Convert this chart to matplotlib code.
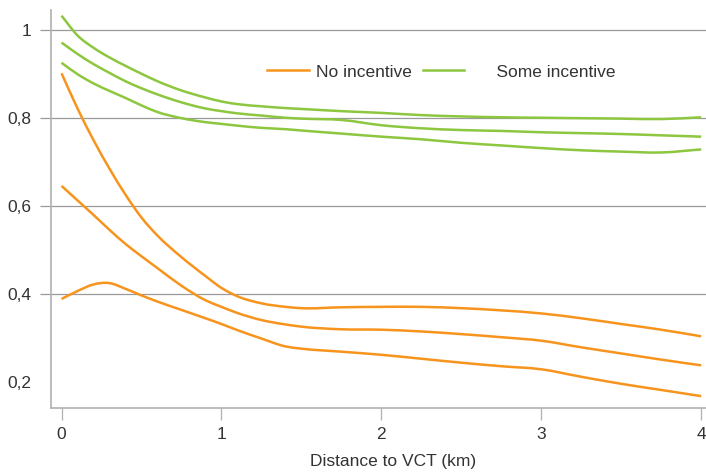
import matplotlib
matplotlib.use("Agg")
import matplotlib.pyplot as plt
from matplotlib.path import Path
from matplotlib.patches import PathPatch
from matplotlib.lines import Line2D

plt.rcParams['font.family'] = ['Liberation Sans', 'DejaVu Sans']

# Distance to VCT (km)
distance = [0, 0.1, 0.2, 0.3, 0.4, 0.5, 0.6, 0.75, 0.9, 1.0, 1.1, 1.25, 1.4, 1.5,
            1.75, 2.0, 2.25, 2.5, 2.75, 3.0, 3.25, 3.5, 3.75, 4.0]

# No incentive (orange) — upper bound, estimate, lower bound
no_upper = [0.901, 0.821, 0.749, 0.684, 0.625, 0.573, 0.532, 0.483, 0.440, 0.413, 0.394, 0.378,
            0.370, 0.367, 0.369, 0.370, 0.370, 0.367, 0.362, 0.355, 0.344, 0.331, 0.318, 0.303]
no_mid = [0.645, 0.612, 0.579, 0.545, 0.513, 0.485, 0.458, 0.418, 0.385, 0.370, 0.356, 0.340,
          0.330, 0.325, 0.319, 0.318, 0.314, 0.308, 0.301, 0.293, 0.278, 0.264, 0.25, 0.237]
no_lower = [0.388, 0.406, 0.421, 0.424, 0.411, 0.396, 0.382, 0.363, 0.344, 0.331, 0.317, 0.298,
            0.280, 0.275, 0.268, 0.261, 0.252, 0.243, 0.235, 0.228, 0.211, 0.195, 0.181, 0.167]

# Some incentive (green) — upper bound, estimate, lower bound
some_upper = [1.032, 0.987, 0.959, 0.937, 0.918, 0.9, 0.883, 0.862, 0.846, 0.837, 0.831, 0.826,
              0.822, 0.82, 0.815, 0.811, 0.806, 0.803, 0.801, 0.8, 0.799, 0.798, 0.797, 0.801]
some_mid = [0.971, 0.945, 0.922, 0.902, 0.883, 0.867, 0.853, 0.835, 0.821, 0.815, 0.81, 0.805,
            0.80, 0.798, 0.795, 0.783, 0.776, 0.772, 0.770, 0.767, 0.765, 0.763, 0.76, 0.757]
some_lower = [0.925, 0.899, 0.878, 0.861, 0.845, 0.828, 0.813, 0.799, 0.79, 0.786, 0.782, 0.777,
              0.774, 0.771, 0.764, 0.757, 0.751, 0.743, 0.737, 0.731, 0.726, 0.723, 0.721, 0.728]

x_ticks = [0, 1, 2, 3, 4]
y_ticks = [0.2, 0.4, 0.6, 0.8, 1.0]
y_labels = ['0,2', '0,4', '0,6', '0,8', '1']
legend_labels = ['No incentive', 'Some incentive']

ORANGE = '#F7941D'
GREEN = '#8DC63F'
GRID = '#9a9a9a'
SPINE = '#b0b0b0'
TXT = '#333333'
LW = 1.8


def smooth_path(xs, ys):
    """Cubic Hermite curve through the data points, drawn as Bezier segments."""
    n = len(xs)
    slopes = []
    for i in range(n):
        if i == 0:
            m = (ys[1] - ys[0]) / (xs[1] - xs[0])
        elif i == n - 1:
            m = (ys[-1] - ys[-2]) / (xs[-1] - xs[-2])
        else:
            h0 = xs[i] - xs[i - 1]
            h1 = xs[i + 1] - xs[i]
            d0 = (ys[i] - ys[i - 1]) / h0
            d1 = (ys[i + 1] - ys[i]) / h1
            m = (h1 * d0 + h0 * d1) / (h0 + h1)
        slopes.append(m)
    verts = [(xs[0], ys[0])]
    codes = [Path.MOVETO]
    for i in range(n - 1):
        h = xs[i + 1] - xs[i]
        verts += [(xs[i] + h / 3, ys[i] + slopes[i] * h / 3),
                  (xs[i + 1] - h / 3, ys[i + 1] - slopes[i + 1] * h / 3),
                  (xs[i + 1], ys[i + 1])]
        codes += [Path.CURVE4] * 3
    return Path(verts, codes)


W, H = 706, 473
fig = plt.figure(figsize=(W / 100, H / 100), dpi=100)
ax = fig.add_axes([51 / W, (H - 408) / H, (706 - 51) / W, (408 - 10) / H])

for series, col in [(no_upper, ORANGE), (no_mid, ORANGE), (no_lower, ORANGE),
                    (some_upper, GREEN), (some_mid, GREEN), (some_lower, GREEN)]:
    ax.add_patch(PathPatch(smooth_path(distance, series), fill=False,
                           edgecolor=col, lw=LW, zorder=3))

ax.set_xlim(-0.066, 4.03)
ax.set_ylim(0.14, 1.045)

ax.set_xticks(x_ticks)
ax.set_xticklabels([str(t) for t in x_ticks])
ax.set_yticks(y_ticks)
ax.set_yticklabels(y_labels)

ax.yaxis.grid(True, color=GRID, lw=0.9)
ax.set_axisbelow(True)
ax.get_ygridlines()[0].set_visible(False)
ax.tick_params(axis='y', direction='out', length=8, width=0.9, color=GRID, pad=6,
               labelsize=12.5, labelcolor=TXT)
ax.yaxis.get_major_ticks()[0].tick1line.set_visible(False)
ax.tick_params(axis='x', direction='out', length=8.5, width=0.9, color=SPINE, pad=5,
               labelsize=12.5, labelcolor=TXT)

for s in ['top', 'right']:
    ax.spines[s].set_visible(False)
for s in ['left', 'bottom']:
    ax.spines[s].set_color(SPINE)
    ax.spines[s].set_linewidth(1.2)

ax.set_xlabel('Distance to VCT (km)', fontsize=12.5, color=TXT)
ax.xaxis.set_label_coords((393 - 51) / (706 - 51), -(461 - 408) / (408 - 10))
ax.xaxis.label.set_va('center')

handles = [Line2D([], [], color=ORANGE, lw=LW), Line2D([], [], color=GREEN, lw=LW)]
fig.legend(handles, [legend_labels[0], '     ' + legend_labels[1]], loc='center left',
           bbox_to_anchor=(267 / W, 1 - 72 / H), ncol=2, frameon=False,
           fontsize=12.5, handlelength=2.4, handletextpad=0.45, columnspacing=0.6,
           borderpad=0, borderaxespad=0, labelcolor=TXT)

fig.savefig('out.png', dpi=100)
